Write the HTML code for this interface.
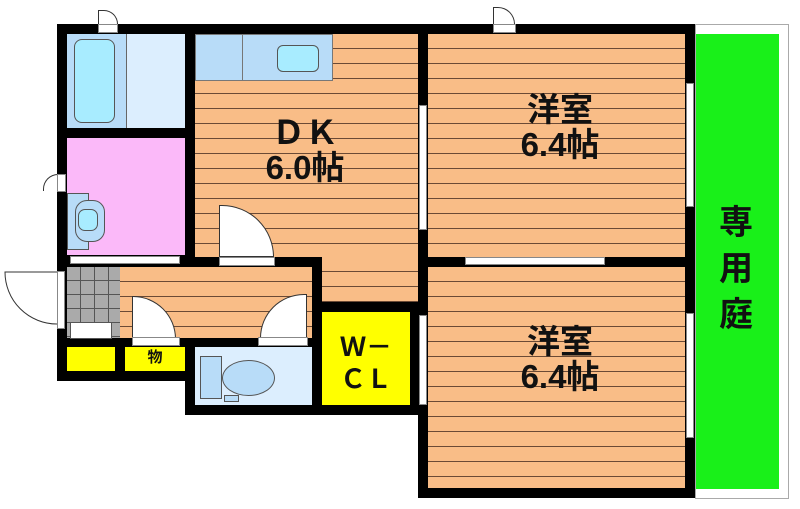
<!DOCTYPE html>
<html><head><meta charset="utf-8"><style>
body{margin:0;width:800px;height:509px;background:#fff;position:relative;overflow:hidden;font-family:"Liberation Sans","Noto Sans CJK JP",sans-serif}
div{position:absolute;box-sizing:border-box}
.k{background:#000}
.fl{background:#f9bd87 repeating-linear-gradient(to bottom,transparent 0,transparent 14px,#6b4a35 14px,#6b4a35 15px)}
.w{background:#fff;border:1px solid #888}
.t{font-weight:bold;color:#111;text-align:center;line-height:1.05}
</style></head><body>
<div class="k" style="left:57px;top:24px;width:371px;height:357px"></div>
<div class="k" style="left:185px;top:24px;width:510px;height:391px"></div>
<div class="k" style="left:418px;top:24px;width:277px;height:474px"></div>
<div style="left:695px;top:24px;width:94px;height:475px;border:1px solid #aaa;background:#fff"></div>
<div style="left:696px;top:34px;width:83px;height:455px;background:#19f019"></div>
<div class="t" style="left:700px;top:200px;width:72px;font-size:34px;line-height:46px">専<br>用<br>庭</div>
<div style="left:67px;top:34px;width:59px;height:94px;background:#b8dcf8"></div>
<div style="left:74px;top:39px;width:41px;height:84px;background:#a8ecff;border:1px solid #555;border-radius:8px"></div>
<div style="left:126px;top:34px;width:59px;height:94px;background:#dceefe;border-left:1px solid #666"></div>
<div style="left:67px;top:138px;width:118px;height:117px;background:#fbb9f9"></div>
<div style="left:67px;top:193px;width:22px;height:57px;background:#b8dcf8;border:1px solid #555"></div>
<div style="left:75px;top:200px;width:30px;height:42px;background:#b8dcf8;border:1px solid #555;border-radius:12px"></div>
<div style="left:78px;top:209px;width:20px;height:22px;background:#a8ecff;border:1px solid #555;border-radius:7px"></div>
<div class="w" style="left:70px;top:256px;width:110px;height:8px"></div>
<div class="fl" style="left:195px;top:34px;width:223px;height:223px"></div>
<div class="fl" style="left:322px;top:257px;width:96px;height:45px"></div>
<div style="left:195px;top:34px;width:138px;height:47px;background:#b8dcf8;border:1px solid #777"></div>
<div style="left:242px;top:34px;width:1px;height:47px;background:#777"></div>
<div style="left:277px;top:45px;width:42px;height:27px;background:#a8ecff;border:1px solid #555;border-radius:6px"></div>
<div class="t" style="left:240px;top:116px;width:130px;font-size:33px">ＤＫ<br>6.0帖</div>
<div style="left:219px;top:205px;width:55px;height:52px;background:#fff;border:1px solid #333;border-radius:0 52px 0 0"></div>
<div class="w" style="left:219px;top:257px;width:56px;height:9px"></div>
<div style="left:67px;top:267px;width:53px;height:71px;background:#aaa repeating-linear-gradient(to right,transparent 0,transparent 13px,#555 13px,#555 14px);"></div>
<div style="left:67px;top:267px;width:53px;height:71px;background:repeating-linear-gradient(to bottom,transparent 0,transparent 13px,#555 13px,#555 14px)"></div>
<div class="fl" style="left:120px;top:267px;width:192px;height:71px"></div>
<svg style="position:absolute;left:0;top:0" width="70" height="340"><path d="M57 272 L5 272 A52 52 0 0 0 57 324" fill="#fff" stroke="#333" stroke-width="1"/></svg>
<div class="w" style="left:57px;top:271px;width:8px;height:58px"></div>
<div style="left:70px;top:322px;width:42px;height:17px;background:#fff;border:1px solid #555"></div>
<div style="left:132px;top:296px;width:44px;height:43px;background:#fff;border:1px solid #333;border-radius:0 44px 0 0"></div>
<div class="w" style="left:132px;top:337px;width:48px;height:9px"></div>
<div style="left:260px;top:294px;width:47px;height:44px;background:#fff;border:1px solid #333;border-radius:47px 0 0 0"></div>
<div class="w" style="left:258px;top:337px;width:50px;height:9px"></div>
<div style="left:67px;top:347px;width:48px;height:24px;background:#ffff00"></div>
<div style="left:125px;top:347px;width:60px;height:24px;background:#ffff00"></div>
<div class="t" style="left:125px;top:350px;width:60px;font-size:15px">物</div>
<div style="left:195px;top:347px;width:117px;height:58px;background:#dceefe"></div>
<div style="left:200px;top:356px;width:22px;height:43px;background:#b8dcf8;border:1px solid #555"></div>
<div style="left:222px;top:360px;width:53px;height:36px;background:#b8dcf8;border:1px solid #555;border-radius:50%"></div>
<div style="left:224px;top:395px;width:15px;height:7px;background:#b8dcf8;border:1px solid #555"></div>
<div style="left:322px;top:312px;width:88px;height:93px;background:#ffff00"></div>
<div class="t" style="left:322px;top:331px;width:88px;font-size:26px;line-height:32px">Ｗ－<br>ＣＬ</div>
<div class="fl" style="left:428px;top:34px;width:257px;height:223px"></div>
<div class="fl" style="left:428px;top:267px;width:257px;height:221px"></div>
<div class="t" style="left:490px;top:93px;width:140px;font-size:33px">洋室<br>6.4帖</div>
<div class="t" style="left:490px;top:325px;width:140px;font-size:33px">洋室<br>6.4帖</div>
<div class="w" style="left:465px;top:257px;width:140px;height:8px"></div>
<div class="w" style="left:419px;top:105px;width:8px;height:125px"></div>
<div class="w" style="left:419px;top:315px;width:8px;height:90px"></div>
<div class="w" style="left:686px;top:83px;width:8px;height:124px"></div>
<div class="w" style="left:686px;top:313px;width:8px;height:125px"></div>
<div style="left:98px;top:10px;width:20px;height:14px;border:1px solid #333;border-bottom:none;border-radius:0 20px 0 0;background:#fff"></div>
<div class="w" style="left:98px;top:24px;width:20px;height:9px"></div>
<div style="left:493px;top:7px;width:22px;height:17px;border:1px solid #333;border-bottom:none;border-radius:0 22px 0 0;background:#fff"></div>
<div class="w" style="left:493px;top:24px;width:23px;height:9px"></div>
<div style="left:43px;top:174px;width:15px;height:17px;border:1px solid #333;border-right:none;border-bottom:none;border-radius:15px 0 0 0;background:#fff"></div>
<div class="w" style="left:57px;top:174px;width:9px;height:18px"></div>
</body></html>
